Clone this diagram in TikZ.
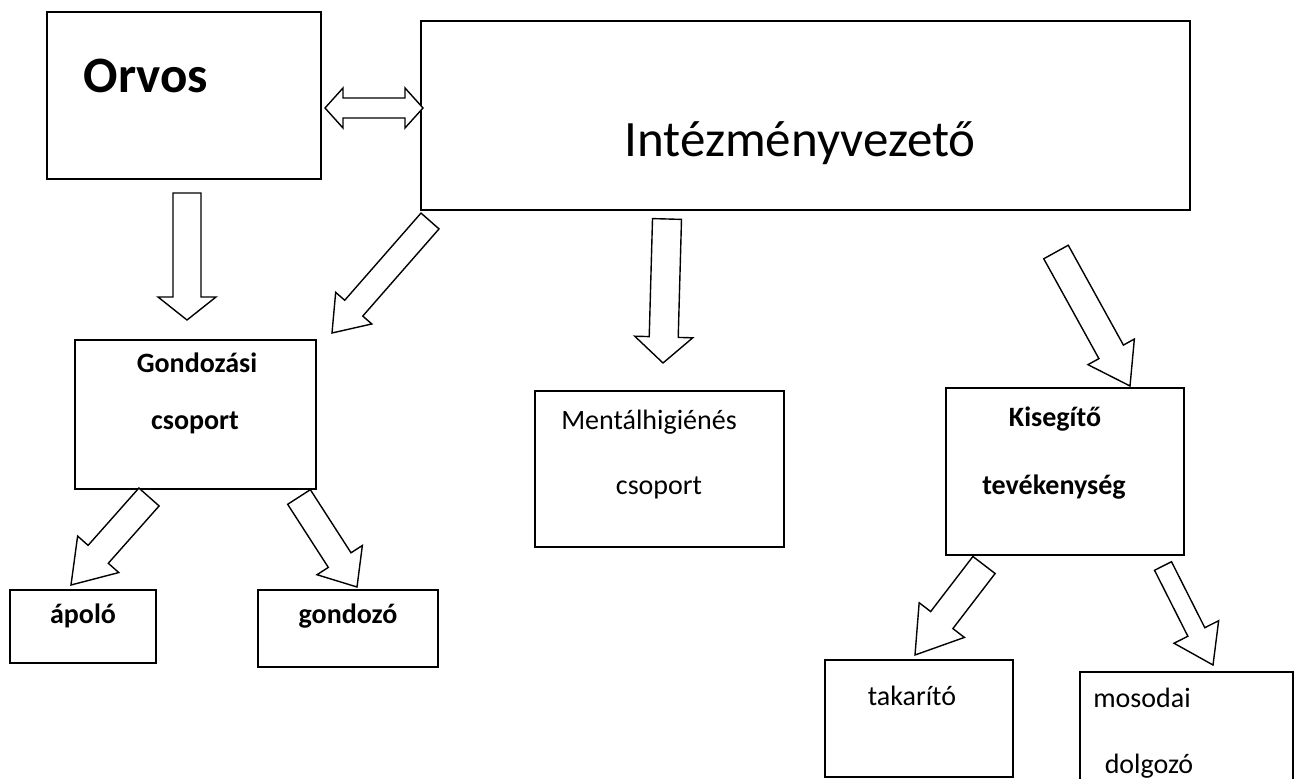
\documentclass[tikz,border=0pt]{standalone}
\usepackage{fontspec}
\setmainfont{Carlito}
\usetikzlibrary{calc}

\tikzset{
  box/.style={draw, rectangle, line width=0.8pt, inner sep=0pt},
  lbl/.style={anchor=base, inner sep=0pt},
  bigfont/.style={font=\fontsize{25.5}{30}\selectfont},
  bigbold/.style={font=\bfseries\fontsize{25.5}{30}\selectfont},
  smallfont/.style={font=\fontsize{14}{17}\selectfont},
  smallbold/.style={font=\bfseries\fontsize{14}{17}\selectfont},
  arrline/.style={draw, line width=0.7pt, line join=miter, fill=white},
  % hollow block arrow: shaft half width, head half width, head length
  bigarrow/.style n args={3}{to path={
    ($(\tikztostart)!#1!90:(\tikztotarget)$)
    -- ($(\tikztotarget)!#3!(\tikztostart)!#1!-90:(\tikztostart)$)
    -- ($(\tikztotarget)!#3!(\tikztostart)!#2!-90:(\tikztostart)$)
    -- (\tikztotarget)
    -- ($(\tikztotarget)!#3!(\tikztostart)!#2!90:(\tikztostart)$)
    -- ($(\tikztotarget)!#3!(\tikztostart)!#1!90:(\tikztostart)$)
    -- ($(\tikztostart)!#1!-90:(\tikztotarget)$)
    -- cycle}},
  twinarrow/.style n args={3}{to path={
    (\tikztostart)
    -- ($(\tikztostart)!#3!(\tikztotarget)!#2!90:(\tikztotarget)$)
    -- ($(\tikztostart)!#3!(\tikztotarget)!#1!90:(\tikztotarget)$)
    -- ($(\tikztotarget)!#3!(\tikztostart)!#1!-90:(\tikztostart)$)
    -- ($(\tikztotarget)!#3!(\tikztostart)!#2!-90:(\tikztostart)$)
    -- (\tikztotarget)
    -- ($(\tikztotarget)!#3!(\tikztostart)!#2!90:(\tikztostart)$)
    -- ($(\tikztotarget)!#3!(\tikztostart)!#1!90:(\tikztostart)$)
    -- ($(\tikztostart)!#3!(\tikztotarget)!#1!-90:(\tikztotarget)$)
    -- ($(\tikztostart)!#3!(\tikztotarget)!#2!-90:(\tikztotarget)$)
    -- cycle}}
}

\begin{document}
\begin{tikzpicture}[x=0.5pt, y=-0.5pt]
  \useasboundingbox (0,0) rectangle (1294,779);
  \clip (0,0) rectangle (1294,779);

  % Boxes
  \node[box, minimum width=137pt, minimum height=83.5pt] (orvos) at (184,95.5) {};
  \node[box, minimum width=384.5pt, minimum height=94.5pt] (intez) at (805.5,115.5) {};
  \node[box, minimum width=120.5pt, minimum height=74.5pt] (gondcs) at (195.5,414.5) {};
  \node[box, minimum width=124.5pt, minimum height=78pt] (mentcs) at (659.5,469) {};
  \node[box, minimum width=119pt, minimum height=83.5pt] (kisteve) at (1065,471.5) {};
  \node[box, minimum width=73pt, minimum height=36.5pt] (apolo) at (83,626.5) {};
  \node[box, minimum width=90pt, minimum height=38.5pt] (gondozo) at (348,628.5) {};
  \node[box, minimum width=94pt, minimum height=58.5pt] (takar) at (919,718.5) {};
  \node[box, minimum width=106.5pt, minimum height=74pt] (mosod) at (1186.5,746) {};

  % Texts
  \node[lbl, bigbold] (orvosT) at (146,93) {Orvos};
  \node[lbl, bigfont] (intezT) at (800,157) {Intézményvezető};
  \node[lbl, smallbold] (gondcsT1) at (197,373) {Gondozási};
  \node[lbl, smallbold] (gondcsT2) at (195,430) {csoport};
  \node[lbl, smallfont] (mentcsT1) at (649,430) {Mentálhigiénés};
  \node[lbl, smallfont] (mentcsT2) at (659,495) {csoport};
  \node[lbl, smallbold] (kisteveT1) at (1055,427) {Kisegítő};
  \node[lbl, smallbold] (kisteveT2) at (1054,495) {tevékenység};
  \node[lbl, smallbold] (apoloT) at (83,623) {ápoló};
  \node[lbl, smallbold] (gondozoT) at (348,623) {gondozó};
  \node[lbl, smallfont] (takarT) at (912,705) {takarító};
  \node[lbl, smallfont] (mosodT1) at (1142,707) {mosodai};
  \node[lbl, smallfont] (mosodT2) at (1149,773) {dolgozó};

  % Arrow ends
  \coordinate (orvA) at (325,108);  \coordinate (intA) at (423,108);
  \coordinate (orvB) at (187,193);  \coordinate (gondB) at (187,320);
  \coordinate (intB) at (430,221);  \coordinate (gondC) at (332,333);
  \coordinate (intC) at (667,219);  \coordinate (mentC) at (663,363);
  \coordinate (intD) at (1056,252); \coordinate (kisD) at (1130,386);
  \coordinate (gondE) at (149,497); \coordinate (apoE) at (71,585);
  \coordinate (gondF) at (299,497); \coordinate (gonF) at (357,587);
  \coordinate (kisG) at (984,565);  \coordinate (takG) at (915,655);
  \coordinate (kisH) at (1163,566); \coordinate (mosH) at (1213,665);

  % Arrows
  \draw[arrline] (orvA) to[twinarrow={5pt}{10pt}{9pt}] (intA);
  \draw[arrline] (orvB) to[bigarrow={7pt}{14.5pt}{11.5pt}] (gondB);
  \draw[arrline] (intB) to[bigarrow={6pt}{12pt}{16.5pt}] (gondC);
  \draw[arrline] (intC) to[bigarrow={7.25pt}{14.5pt}{13pt}] (mentC);
  \draw[arrline] (intD) to[bigarrow={7pt}{13.25pt}{19.5pt}] (kisD);
  \draw[arrline] (gondE) to[bigarrow={6.75pt}{13.75pt}{20.5pt}] (apoE);
  \draw[arrline] (gondF) to[bigarrow={6.75pt}{13.5pt}{16pt}] (gonF);
  \draw[arrline] (kisG) to[bigarrow={7pt}{14.25pt}{22pt}] (takG);
  \draw[arrline] (kisH) to[bigarrow={4.75pt}{12.5pt}{18.5pt}] (mosH);
\end{tikzpicture}
\end{document}
